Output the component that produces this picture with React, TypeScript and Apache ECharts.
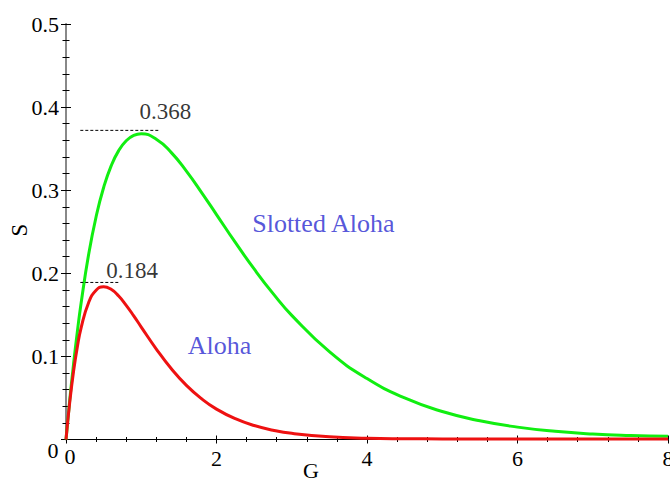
import React, { useEffect, useRef } from "react";
import * as echarts from "echarts";

const G = [0, 0.05, 0.1, 0.15, 0.2, 0.3, 0.4, 0.5, 0.6, 0.7, 0.8, 0.9, 1.0, 1.2, 1.4, 1.6, 1.8, 2.0, 2.25, 2.5, 2.75, 3.0, 3.5, 4, 4.5, 5, 5.5, 6, 6.5, 7, 7.5, 8];
const slottedS = [0, 0.0476, 0.0905, 0.1291, 0.1637, 0.2222, 0.2681, 0.3033, 0.3293, 0.3476, 0.3595, 0.3659, 0.3679, 0.3614, 0.3452, 0.323, 0.2975, 0.2707, 0.2371, 0.2052, 0.1758, 0.1494, 0.1057, 0.0733, 0.05, 0.0337, 0.0225, 0.0149, 0.0098, 0.0066, 0.0048, 0.0038];
const alohaS = [0, 0.0452, 0.0819, 0.1111, 0.1341, 0.1646, 0.1797, 0.1839, 0.1807, 0.1726, 0.1615, 0.1488, 0.1353, 0.1089, 0.0851, 0.0652, 0.0492, 0.0366, 0.025, 0.0168, 0.0112, 0.0074, 0.0032, 0.0015, 0.0009, 0.0007, 0.0006, 0.0005, 0.0005, 0.0005, 0.0005, 0.0005];

const xTicks = [0, 2, 4, 6, 8];
const yTicks = [0, 0.1, 0.2, 0.3, 0.4, 0.5];

const peakLines = [
  { label: "0.368", from: [0.19, 0.372], to: [1.25, 0.372], text: [1.32, 0.3946] },
  { label: "0.184", from: [0.19, 0.189], to: [0.71, 0.189], text: [0.88, 0.203] },
];
const curveLabels = [
  { name: "Slotted Aloha", pos: [3.42, 0.2596] },
  { name: "Aloha", pos: [2.04, 0.113] },
];

const FONT = "Liberation Serif";

export default function App() {
  const ref = useRef<HTMLDivElement>(null);
  useEffect(() => {
    if (!ref.current) return;
    const chart = echarts.init(ref.current, undefined, { renderer: "svg" });
    const xBase = { type: "value", min: xTicks[0], max: xTicks[xTicks.length - 1], interval: 2, splitLine: { show: false } };
    const yBase = { type: "value", min: yTicks[0], max: yTicks[yTicks.length - 1], interval: 0.1, splitLine: { show: false } };
    chart.setOption({
      animation: false,
      backgroundColor: "#ffffff",
      textStyle: { fontFamily: FONT },
      grid: { left: 66, right: 2, top: 24, bottom: 41.5, containLabel: false, outerBoundsMode: "none" },
      xAxis: [
        {
          ...xBase,
          position: "bottom",
          axisLine: { show: true, lineStyle: { color: "#000", width: 1 } },
          axisTick: { show: true, inside: false, length: 4, lineStyle: { color: "#000" } },
          minorTick: { show: true, splitNumber: 5, length: 2.5, lineStyle: { color: "#000" } },
          axisLabel: { show: true, margin: 8, fontSize: 22, fontFamily: FONT, color: "#000", formatter: (v: number) => (v === 0 ? "" : String(v)) },
        },
        {
          ...xBase,
          position: "bottom",
          axisLine: { show: false },
          axisTick: { show: true, inside: true, length: 4, lineStyle: { color: "#000" } },
          minorTick: { show: true, splitNumber: 5, length: 2.5, lineStyle: { color: "#000" } },
          axisLabel: { show: false },
        },
        {
          ...xBase,
          position: "top",
          axisLine: { show: true, lineStyle: { color: "#000", width: 1 } },
          axisTick: { show: false },
          axisLabel: { show: false },
        },
      ],
      yAxis: [
        {
          ...yBase,
          position: "left",
          axisLine: { show: true, lineStyle: { color: "#666", width: 1 } },
          axisTick: { show: true, inside: false, length: 5, lineStyle: { color: "#000" } },
          minorTick: { show: true, splitNumber: 5, length: 3.5, lineStyle: { color: "#000" } },
          axisLabel: { show: true, margin: 7, fontSize: 22, fontFamily: FONT, color: "#000", formatter: (v: number) => (v === 0 ? "" : v.toFixed(1)) },
        },
        {
          ...yBase,
          position: "left",
          axisLine: { show: false },
          axisTick: { show: true, inside: true, length: 5, lineStyle: { color: "#000" } },
          minorTick: { show: true, splitNumber: 5, length: 3.5, lineStyle: { color: "#000" } },
          axisLabel: { show: false },
        },
        {
          ...yBase,
          position: "right",
          axisLine: { show: true, lineStyle: { color: "#888", width: 2 } },
          axisTick: { show: false },
          axisLabel: { show: false },
        },
      ],
      graphic: [
        { type: "text", x: 70, y: 456, style: { text: "0", font: `22px ${FONT}`, fill: "#000", textAlign: "center", textVerticalAlign: "middle" } },
        { type: "text", x: 53, y: 450, style: { text: "0", font: `22px ${FONT}`, fill: "#000", textAlign: "center", textVerticalAlign: "middle" } },
        { type: "text", x: 311, y: 481, style: { text: "G", font: `22px ${FONT}`, fill: "#000", textAlign: "center", textVerticalAlign: "bottom" } },
        { type: "text", x: 19, y: 230, rotation: Math.PI / 2, style: { text: "S", font: `23px ${FONT}`, fill: "#000", textAlign: "center", textVerticalAlign: "middle" } },
      ],
      series: [
        {
          type: "line",
          name: "Slotted Aloha",
          data: G.map((g, i) => [g, slottedS[i]]),
          smooth: true,
          showSymbol: false,
          lineStyle: { color: "#11ee11", width: 3 },
          z: 3,
        },
        {
          type: "line",
          name: "Aloha",
          data: G.map((g, i) => [g, alohaS[i]]),
          smooth: true,
          showSymbol: false,
          lineStyle: { color: "#ee1111", width: 3 },
          z: 4,
        },
        ...peakLines.map((p) => ({
          type: "line",
          data: [p.from, p.to],
          showSymbol: false,
          lineStyle: { color: "#000", width: 1, type: [3, 2] },
          z: 5,
        })),
        {
          type: "scatter",
          symbolSize: 0,
          data: peakLines.map((p) => ({ value: p.text, name: p.label })),
          label: { show: true, position: "inside", formatter: "{b}", fontSize: 23, fontFamily: FONT, color: "#000" },
          z: 6,
        },
        {
          type: "scatter",
          symbolSize: 0,
          data: curveLabels.map((c) => ({ value: c.pos, name: c.name })),
          label: { show: true, position: "inside", formatter: "{b}", fontSize: 26, fontFamily: FONT, color: "#2a2ad0" },
          z: 6,
        },
      ],
    });
    return () => chart.dispose();
  }, []);
  return <div ref={ref} style={{ position: "fixed", left: 0, top: 0, width: 670, height: 481 }} />;
}
